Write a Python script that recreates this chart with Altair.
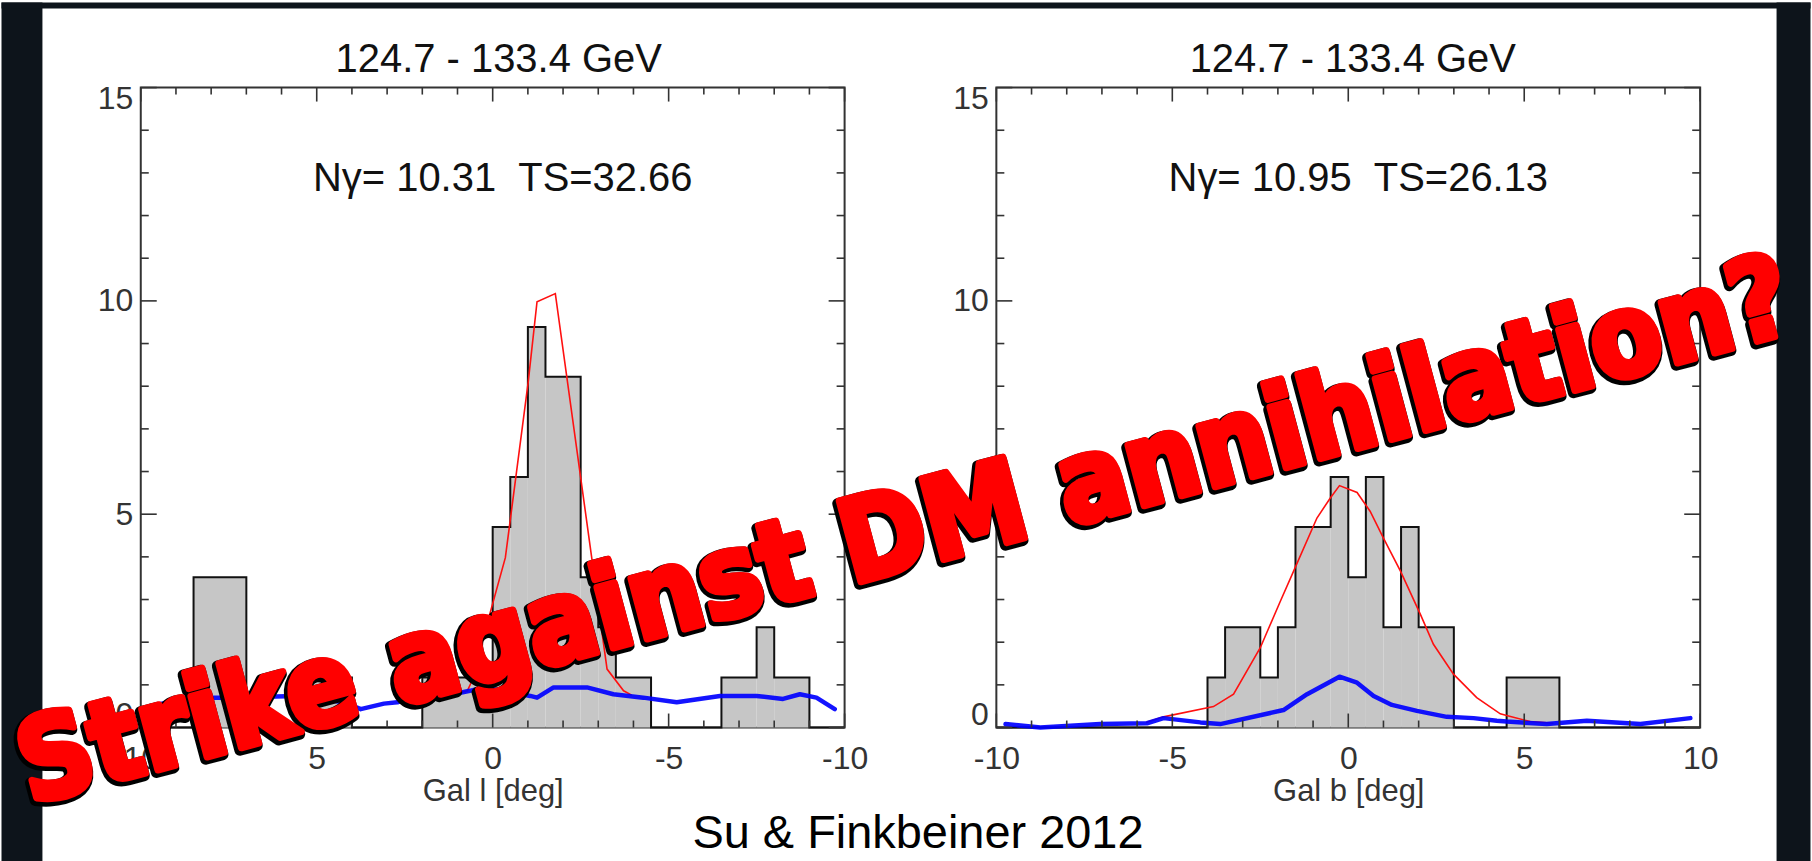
import altair as alt
import pandas as pd

# ---------------- data ----------------
# Galactic longitude histogram: bin edges and photon counts
l_lo = [-10, -9, -8, -7.5, -6.5, -4.5, -3.5, -3, -2.5, -1.5, -1, -0.5, 0, 2, 4, 5.5, 7, 8.5]
l_hi = [-9, -8, -7.5, -6.5, -4.5, -3.5, -3, -2.5, -1.5, -1, -0.5, 0, 2, 4, 5.5, 7, 8.5, 10]
l_counts = [0, 1.17, 2.35, 1.17, 0, 1.17, 2.35, 3.52, 8.22, 9.39, 5.87, 4.70, 1.17, 0, 1.17, 0, 3.52, 0]

# Galactic latitude histogram
b_lo = [-10, -4, -3.5, -2.5, -2, -1.5, -0.5, 0, 0.5, 1, 1.5, 2, 3, 4.5, 6]
b_hi = [-4, -3.5, -2.5, -2, -1.5, -0.5, 0, 0.5, 1, 1.5, 2, 3, 4.5, 6, 10]
b_counts = [0, 1.17, 2.35, 1.17, 2.35, 4.70, 5.87, 3.52, 5.87, 2.35, 4.70, 2.35, 0, 1.17, 0]

# background template (blue)
l_bg_x = [-9.72, -9.2, -8.73, -8.25, -7.5, -6.46, -5.23, -4.28, -3.43, -2.68, -1.73, -1.26,
          -1.07, 0.25, 0.65, 1.76, 2.24, 2.71, 3.09, 3.75, 4.22, 5.54, 7.43, 8.76, 9.23, 9.75]
l_bg_y = [0.43, 0.70, 0.78, 0.67, 0.74, 0.74, 0.59, 0.70, 0.78, 0.94, 0.94, 0.70,
          0.74, 0.94, 0.86, 0.67, 0.74, 0.59, 0.56, 0.43, 0.59, 0.74, 0.70, 0.70, 0.59, 0.50]
b_bg_x = [-9.74, -8.75, -7.05, -5.72, -5.25, -4.2, -3.64, -1.84, -1.17, -0.25, 0.25, 0.72,
          1.24, 1.95, 2.8, 3.56, 4.22, 4.5, 5.64, 6.78, 8.3, 9.72]
b_bg_y = [0.08, 0.0, 0.08, 0.10, 0.22, 0.12, 0.08, 0.41, 0.78, 1.19, 1.05, 0.74,
          0.53, 0.39, 0.25, 0.22, 0.16, 0.14, 0.08, 0.16, 0.08, 0.22]

# total model with the line (red)
l_fit_x = [-3.95, -3.72, -3.25, -1.78, -1.26, -1.01, -0.36, 0.63, 0.72, 1.2]
l_fit_y = [0.76, 0.86, 1.37, 10.17, 9.98, 8.1, 3.98, 1.02, 0.86, 0.76]
b_fit_x = [-5.75, -5.25, -3.83, -3.26, -2.5, -1.93, -1.55, -0.89, -0.51, -0.25, 0.25, 0.62,
           1.0, 1.48, 2.05, 2.42, 2.99, 3.65, 4.32, 4.5, 5.17, 5.83]
b_fit_y = [0.12, 0.25, 0.49, 0.78, 1.87, 2.96, 3.67, 4.91, 5.38, 5.67, 5.51, 5.07,
           4.44, 3.67, 2.65, 1.95, 1.25, 0.70, 0.32, 0.28, 0.14, 0.10]

# tick positions
major_x = [-10, -5, 0, 5, 10]
minor_x = [-9, -8, -7, -6, -4, -3, -2, -1, 1, 2, 3, 4, 6, 7, 8, 9]
major_y = [0, 5, 10, 15]
minor_y = [1, 2, 3, 4, 6, 7, 8, 9, 11, 12, 13, 14]

panel_titles = ["124.7 - 133.4 GeV", "124.7 - 133.4 GeV"]
fit_labels = ["N\u03b3= 10.31 \u00a0TS=32.66", "N\u03b3= 10.95 \u00a0TS=26.13"]
x_titles = ["Gal l [deg]", "Gal b [deg]"]
slogan = "Strike against DM annihilation?"
credit = "Su & Finkbeiner 2012"

# ---------------- layout ----------------
W, H = 705, 641
GAP = 152
LEFT_PAGE, TOP_PAGE = 139.5, 85.3
RIGHT_PAGE = LEFT_PAGE + W + GAP
CANVAS_W, CANVAS_H = 1812, 861
FONT = "Liberation Sans, Arial, Helvetica, sans-serif"
NARROW = "DejaVu Sans Condensed, Liberation Sans, sans-serif"
FRAME = "#333333"
DARK = "#0d141b"

one = pd.DataFrame({"k": [0]})


def panel(lo, hi, counts, bg_x, bg_y, fit_x, fit_y, xtitle, reverse, title, label, title_x):
    xscale = alt.Scale(domain=[-10, 10], reverse=reverse, nice=False, zero=False)
    yscale = alt.Scale(domain=[0, 15], nice=False, zero=False)
    xaxis = alt.Axis(values=major_x, ticks=False, tickSize=0, domain=False, grid=False,
                     labelFont=FONT, labelFontSize=32, labelColor="#333",
                     labelPadding=16, labelFlush=False, labelExpr="'' + datum.value",
                     title=xtitle, titleFont=FONT, titleFontSize=31, titleFontWeight="normal",
                     titleColor="#333", titleY=73, titleBaseline="alphabetic")
    yaxis = alt.Axis(values=major_y, ticks=False, tickSize=0, domain=False, grid=False,
                     labelFont=FONT, labelFontSize=32, labelColor="#333",
                     labelPadding=8, labelFlush=True, labelFlushOffset=4,
                     labelExpr="'' + datum.value", title=None)

    def X():
        return alt.X("x:Q", scale=xscale, axis=xaxis)

    def Y():
        return alt.Y("y:Q", scale=yscale, axis=yaxis)

    bars = alt.Chart(pd.DataFrame({"x": lo, "x2": hi, "y": counts})).mark_rect(
        color="#c6c6c6").encode(x=X(), x2="x2:Q", y=Y(), y2=alt.datum(0))

    # step outline: both corners of every bin, joined in order
    ox, oy, oi = [], [], []
    for a, b, h in zip(lo, hi, counts):
        ox += [a, b]
        oy += [h, h]
        oi += [len(oi), len(oi) + 1]
    outline = alt.Chart(pd.DataFrame({"x": ox, "y": oy, "i": oi})).mark_line(
        color="#111111", strokeWidth=2).encode(x=X(), y=Y(), order="i:Q")

    fit = alt.Chart(pd.DataFrame({"x": fit_x, "y": fit_y})).mark_line(
        color="#ff1010", strokeWidth=1.6).encode(x=X(), y=Y())
    bg = alt.Chart(pd.DataFrame({"x": bg_x, "y": bg_y})).mark_line(
        color="#0000ff", strokeWidth=4.5, strokeJoin="round", strokeCap="round",
        opacity=0.92).encode(x=X(), y=Y())

    layers = [bars, outline, fit, bg]
    for vals, ln in ((major_x, 14), (minor_x, 7)):
        base = alt.Chart(pd.DataFrame({"x": vals})).mark_rule(color=FRAME, strokeWidth=1.6)
        layers.append(base.encode(x=X(), y=alt.value(H), y2=alt.value(H - ln)))
        layers.append(base.encode(x=X(), y=alt.value(0), y2=alt.value(ln)))
    for vals, ln in ((major_y, 16), (minor_y, 8)):
        base = alt.Chart(pd.DataFrame({"y": vals})).mark_rule(color=FRAME, strokeWidth=1.6)
        layers.append(base.encode(y=Y(), x=alt.value(0), x2=alt.value(ln)))
        layers.append(base.encode(y=Y(), x=alt.value(W), x2=alt.value(W - ln)))

    # fit summary inside the frame
    layers.append(alt.Chart(one).mark_text(
        text=label, font=FONT, fontSize=40, color="#111", align="left",
        baseline="alphabetic").encode(x=alt.value(172.5), y=alt.value(103.7)))
    # energy band above the frame
    layers.append(alt.Chart(one).mark_text(
        text=title, font=FONT, fontSize=40, color="#111", align="center",
        baseline="alphabetic").encode(x=alt.value(title_x), y=alt.value(-15.3)))
    return layers


left_layers = panel(l_lo, l_hi, l_counts, l_bg_x, l_bg_y, l_fit_x, l_fit_y,
                    x_titles[0], True, panel_titles[0], fit_labels[0], 358.5)
right_layers = panel(b_lo, b_hi, b_counts, b_bg_x, b_bg_y, b_fit_x, b_fit_y,
                     x_titles[1], False, panel_titles[1], fit_labels[1], 357)


# page coordinates -> coordinates of the right plot area
def rx(p):
    return p - RIGHT_PAGE


def ry(p):
    return p - TOP_PAGE


# dark slide border around the white sheet
for x0, x1, y0, y1 in ((0, 41, 0, CANVAS_H), (0, CANVAS_W, 0, 6), (1778, CANVAS_W, 0, CANVAS_H)):
    right_layers.append(alt.Chart(one).mark_rect(color=DARK).encode(
        x=alt.value(rx(x0)), x2=alt.value(rx(x1)), y=alt.value(ry(y0)), y2=alt.value(ry(y1))))

right_layers.append(alt.Chart(one).mark_text(
    text=credit, font=FONT, fontSize=47, color="#000", align="center",
    baseline="alphabetic").encode(x=alt.value(rx(918)), y=alt.value(ry(847))))

# slogan: dark outline underneath, red on top
SLOGAN_SIZE = 115
SLOGAN_X, SLOGAN_Y = 914, 566
right_layers.append(alt.Chart(one).mark_text(
    text=slogan, font=NARROW, fontSize=SLOGAN_SIZE, fontWeight="bold", angle=345,
    align="center", baseline="alphabetic", fill="#000", stroke="#000",
    strokeWidth=11, strokeJoin="round", dx=-2, dy=2).encode(
    x=alt.value(rx(SLOGAN_X)), y=alt.value(ry(SLOGAN_Y))))
right_layers.append(alt.Chart(one).mark_text(
    text=slogan, font=NARROW, fontSize=SLOGAN_SIZE, fontWeight="bold", angle=345,
    align="center", baseline="alphabetic", fill="#ff0000", stroke="#ff0000",
    strokeWidth=7, strokeJoin="round").encode(
    x=alt.value(rx(SLOGAN_X)), y=alt.value(ry(SLOGAN_Y))))

left = alt.layer(*left_layers).properties(width=W, height=H)
right = alt.layer(*right_layers).properties(width=W, height=H)

chart = alt.hconcat(left, right, spacing=GAP, bounds="flush").properties(
    padding=0, background="white"
).configure_view(stroke=FRAME, strokeWidth=2)

chart.save("out.html", embed_options={"renderer": "svg", "actions": False})
